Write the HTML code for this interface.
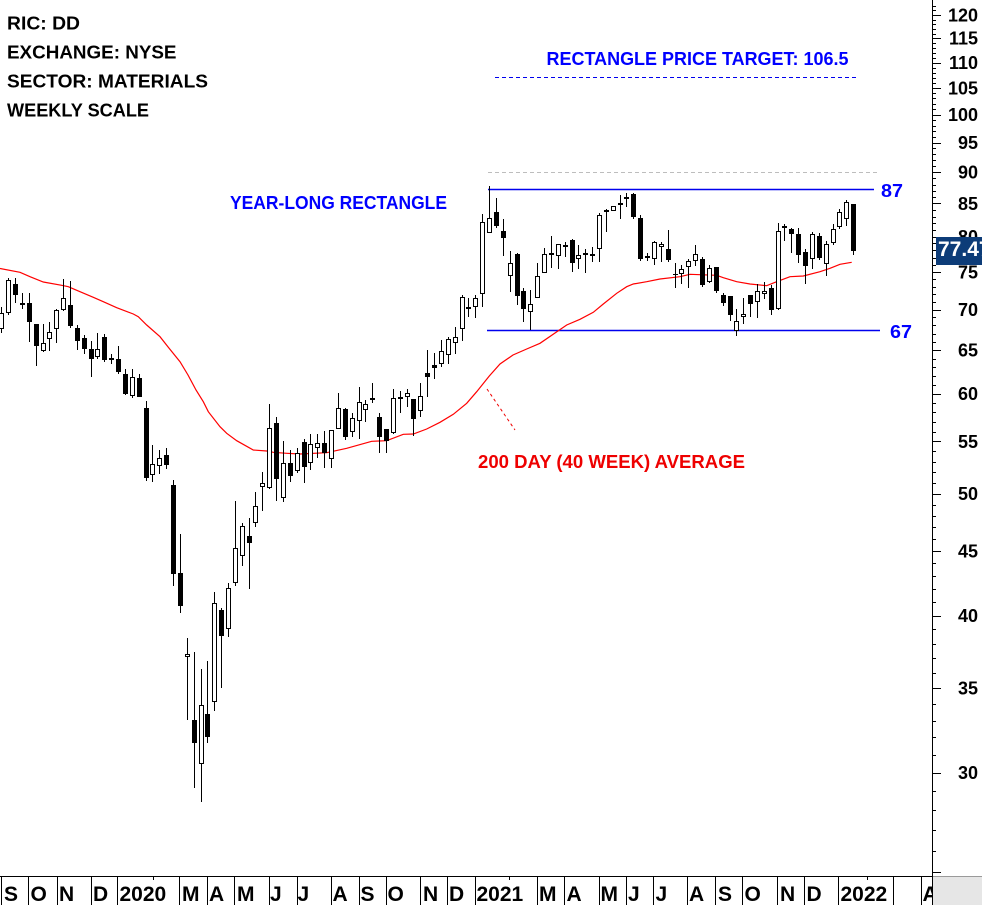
<!DOCTYPE html>
<html><head><meta charset="utf-8"><style>
html,body{margin:0;padding:0;background:#fff;width:982px;height:905px;overflow:hidden}
svg{display:block}
</style></head><body>
<svg width="982" height="905" viewBox="0 0 982 905" xmlns="http://www.w3.org/2000/svg" font-family="'Liberation Sans', Arial, sans-serif" font-weight="bold">
<rect x="0" y="0" width="982" height="905" fill="#fff"/>
<g fill="#000" font-size="18">
<text x="7" y="29.5" textLength="73" lengthAdjust="spacingAndGlyphs">RIC: DD</text>
<text x="7" y="58.5" textLength="169.5" lengthAdjust="spacingAndGlyphs">EXCHANGE: NYSE</text>
<text x="7" y="87.5" textLength="201" lengthAdjust="spacingAndGlyphs">SECTOR: MATERIALS</text>
<text x="7" y="116.5" textLength="142" lengthAdjust="spacingAndGlyphs">WEEKLY SCALE</text>
</g>
<text x="546.5" y="65" font-size="18" fill="#0000ff" textLength="302" lengthAdjust="spacingAndGlyphs">RECTANGLE PRICE TARGET: 106.5</text>
<line x1="495" y1="77.5" x2="858" y2="77.5" stroke="#0000ee" stroke-width="1" stroke-dasharray="4,3"/>
<line x1="488" y1="172.5" x2="880" y2="172.5" stroke="#bdbdbd" stroke-width="1" stroke-dasharray="4,3"/>
<line x1="488" y1="189.5" x2="874" y2="189.5" stroke="#0000ee" stroke-width="1.4"/>
<line x1="487" y1="330.5" x2="880" y2="330.5" stroke="#0000ee" stroke-width="1.4"/>
<text x="230" y="209" font-size="18" fill="#0000ff" textLength="217" lengthAdjust="spacingAndGlyphs">YEAR-LONG RECTANGLE</text>
<text x="881" y="197" font-size="18" fill="#0000ff" textLength="22" lengthAdjust="spacingAndGlyphs">87</text>
<text x="890" y="338" font-size="18" fill="#0000ff" textLength="22" lengthAdjust="spacingAndGlyphs">67</text>
<text x="478" y="468" font-size="18" fill="#ee0000" textLength="267" lengthAdjust="spacingAndGlyphs">200 DAY (40 WEEK) AVERAGE</text>
<line x1="487" y1="389" x2="515" y2="430" stroke="#ee0000" stroke-width="1" stroke-dasharray="3,3"/>
<polyline fill="none" stroke="#ff0000" stroke-width="1.2" points="0,268.5 20,272.3 30,276.7 43.3,282 61.7,285.3 68.3,286.7 80,291.7 93.3,297.3 103.3,301.7 116.7,307.7 133.3,314 138.3,316.7 146.7,325 160,336.7 168.3,347.3 180,361.7 188,375 196,390 203.3,401.7 208.3,411.7 220,426.7 226.7,433.3 236.7,440.7 253.3,450 266.7,451 273.3,452.3 286.7,453.3 300,454 326.7,452.7 346.7,448.3 371.7,441.3 386.7,440.7 403.3,434.3 413.3,434 426.7,429 440,422.3 453.3,414.3 466.7,403.3 476.7,391.7 489.3,376 500,364 513,355 526.7,349 540,343.3 558.3,330.7 566.7,325 580,319.3 593.3,312.3 603.3,304 616.7,293.3 626.7,286.7 633.3,284 646.7,281.7 660,279 680,276.7 690,274.3 716.7,275.3 723.3,277.7 736.7,281.7 750,284 766.7,285.7 776.7,281.7 790,276.7 803.3,276 820,271.7 830,268.3 840,264.3 851.7,262.3"/>
<path fill="none" stroke="#000" stroke-width="1" d="M1.5 307V333M8.5 278V315M15.5 278V303M22.5 293V309M29.5 293V342M36.5 324V366M43.5 324V352M49.5 322V351M56.5 309V343M63.5 279V311M70.5 281V328M77.5 325V350M84.5 335V354M91.5 341V377M97.5 333V359M104.5 334V362M111.5 354V364M118.5 346V374M125.5 369V395M132.5 369V398M139.5 374V397M146.5 401V481M152.5 445V482M159.5 450V474M166.5 448V469M173.5 480V586M180.5 534V613M187.5 638V720M194.5 652V788M201.5 669V802M207.5 661V743M214.5 592V711M221.5 608V688M228.5 583V637M235.5 501V586M242.5 523V566M249.5 518V589M255.5 492V527M262.5 472V511M269.5 404V489M276.5 417V501M283.5 441V502M290.5 450V482M297.5 448V473M304.5 439V483M310.5 434V470M317.5 434V458M324.5 431V468M331.5 430V468M338.5 393V429M345.5 408V440M352.5 413V437M359.5 387V439M365.5 400V422M372.5 383V403M379.5 413V453M386.5 429V453M393.5 389V434M400.5 391V413M407.5 389V407M413.5 399V436M420.5 383V417M427.5 350V397M434.5 353V379M441.5 340V367M448.5 337V364M455.5 327V354M462.5 295V341M468.5 298V317M475.5 295V318M482.5 214V307M489.5 186V233M496.5 198V228M503.5 219V256M510.5 251V292M517.5 253V305M523.5 288V322M530.5 290V330M537.5 263V298M544.5 248V273M551.5 236V268M558.5 244V269M565.5 242V257M572.5 239V272M578.5 245V269M585.5 249V273M592.5 247V262M599.5 213V262M606.5 209V232M613.5 206V211M620.5 195V219M626.5 193V207M633.5 193V219M640.5 215V261M647.5 253V261M654.5 241V265M661.5 242V262M668.5 230V262M675.5 263V288M681.5 265V284M688.5 259V288M695.5 245V266M702.5 257V287M709.5 265V283M716.5 267V293M723.5 293V306M730.5 296V321M736.5 309V336M743.5 298V324M750.5 295V317M757.5 284V318M764.5 282V299M771.5 285V315M778.5 223V310M784.5 224V241M791.5 228V253M798.5 228V263M805.5 249V284M812.5 232V269M819.5 233V260M826.5 241V276M833.5 224V245M839.5 209V229M846.5 200V226M853.5 204V255"/>
<path fill="#000" d="M13 284h5v11h-5zM20 303h5v2h-5zM27 303h5v19h-5zM34 324h5v22h-5zM68 305h5v21h-5zM75 328h5v13h-5zM82 338h5v11h-5zM89 349h5v10h-5zM102 337h5v23h-5zM109 358h5v2h-5zM116 359h5v13h-5zM123 374h5v20h-5zM137 378h5v19h-5zM144 408h5v70h-5zM164 455h5v10h-5zM171 485h5v89h-5zM178 573h5v33h-5zM192 720h5v23h-5zM205 714h5v23h-5zM219 610h5v26h-5zM247 536h5v7h-5zM274 423h5v56h-5zM288 463h5v13h-5zM302 442h5v25h-5zM322 443h5v10h-5zM343 409h5v28h-5zM370 398h5v2h-5zM377 417h5v20h-5zM384 429h5v12h-5zM398 397h5v2h-5zM411 399h5v20h-5zM425 373h5v4h-5zM432 365h5v3h-5zM466 307h5v2h-5zM494 212h5v14h-5zM501 231h5v7h-5zM515 254h5v42h-5zM521 291h5v18h-5zM549 253h5v2h-5zM563 245h5v2h-5zM570 240h5v23h-5zM583 253h5v2h-5zM590 254h5v2h-5zM604 210h5v2h-5zM618 203h5v2h-5zM624 197h5v2h-5zM631 194h5v23h-5zM638 218h5v41h-5zM645 256h5v2h-5zM666 249h5v11h-5zM673 274h5v1h-5zM700 259h5v26h-5zM714 267h5v24h-5zM721 295h5v8h-5zM728 296h5v19h-5zM748 295h5v9h-5zM769 288h5v22h-5zM782 226h5v2h-5zM789 229h5v5h-5zM796 234h5v21h-5zM803 252h5v14h-5zM817 236h5v22h-5zM851 204h5v47h-5z"/>
<path fill="#fff" stroke="#000" stroke-width="1" d="M-0.5 313.5h4v15h-4zM6.5 280.5h4v32h-4zM41.5 343.5h4v7h-4zM47.5 332.5h4v6h-4zM54.5 310.5h4v18h-4zM61.5 298.5h4v11h-4zM95.5 349.5h4v7h-4zM130.5 377.5h4v18h-4zM150.5 464.5h4v10h-4zM157.5 458.5h4v7h-4zM185.5 654.5h4v2h-4zM199.5 705.5h4v58h-4zM212.5 603.5h4v98h-4zM226.5 588.5h4v40h-4zM233.5 548.5h4v34h-4zM240.5 526.5h4v29h-4zM253.5 506.5h4v16h-4zM260.5 483.5h4v3h-4zM267.5 428.5h4v59h-4zM281.5 463.5h4v34h-4zM295.5 453.5h4v17h-4zM308.5 444.5h4v18h-4zM315.5 443.5h4v4h-4zM329.5 430.5h4v28h-4zM336.5 408.5h4v20h-4zM350.5 418.5h4v13h-4zM357.5 402.5h4v18h-4zM363.5 404.5h4v5h-4zM391.5 398.5h4v34h-4zM405.5 393.5h4v3h-4zM418.5 396.5h4v14h-4zM439.5 351.5h4v12h-4zM446.5 339.5h4v15h-4zM453.5 337.5h4v5h-4zM460.5 297.5h4v31h-4zM473.5 298.5h4v8h-4zM480.5 222.5h4v71h-4zM487.5 218.5h4v14h-4zM508.5 263.5h4v12h-4zM528.5 304.5h4v7h-4zM535.5 276.5h4v21h-4zM542.5 254.5h4v18h-4zM556.5 244.5h4v11h-4zM576.5 255.5h4v3h-4zM597.5 215.5h4v33h-4zM611.5 206.5h4v4h-4zM652.5 242.5h4v16h-4zM659.5 244.5h4v2h-4zM679.5 269.5h4v4h-4zM686.5 261.5h4v5h-4zM693.5 254.5h4v6h-4zM707.5 268.5h4v13h-4zM734.5 321.5h4v9h-4zM741.5 314.5h4v2h-4zM755.5 291.5h4v10h-4zM762.5 291.5h4v2h-4zM776.5 231.5h4v77h-4zM810.5 234.5h4v24h-4zM824.5 244.5h4v19h-4zM831.5 229.5h4v13h-4zM837.5 212.5h4v14h-4zM844.5 202.5h4v16h-4z"/>
<rect x="933" y="0" width="49" height="876" fill="#fff"/>
<line x1="932.5" y1="0" x2="932.5" y2="877" stroke="#000" stroke-width="1"/>
<line x1="0" y1="876.5" x2="933" y2="876.5" stroke="#000" stroke-width="1"/>
<path fill="none" stroke="#000" stroke-width="1" d="M932 872.5h9M932 851.5h4M932 830.5h4M932 810.5h4M932 791.5h4M932 773.5h9M932 755.5h4M932 737.5h4M932 721.5h4M932 704.5h4M932 688.5h9M932 673.5h4M932 658.5h4M932 644.5h4M932 629.5h4M932 616.5h9M932 602.5h4M932 589.5h4M932 576.5h4M932 563.5h4M932 551.5h9M932 539.5h4M932 527.5h4M932 516.5h4M932 505.5h4M932 494.5h9M932 483.5h4M932 472.5h4M932 462.5h4M932 451.5h4M932 441.5h9M932 432.5h4M932 422.5h4M932 412.5h4M932 403.5h4M932 394.5h9M932 385.5h4M932 376.5h4M932 367.5h4M932 359.5h4M932 350.5h9M932 342.5h4M932 334.5h4M932 325.5h4M932 317.5h4M932 310.5h9M932 302.5h4M932 294.5h4M932 287.5h4M932 279.5h4M932 272.5h9M932 265.5h4M932 258.5h4M932 250.5h4M932 243.5h4M932 237.5h9M932 230.5h4M932 223.5h4M932 217.5h4M932 210.5h4M932 203.5h9M932 197.5h4M932 191.5h4M932 185.5h4M932 178.5h4M932 172.5h9M932 166.5h4M932 160.5h4M932 154.5h4M932 148.5h4M932 143.5h9M932 137.5h4M932 131.5h4M932 126.5h4M932 120.5h4M932 115.5h9M932 109.5h4M932 104.5h4M932 98.5h4M932 93.5h4M932 88.5h9M932 83.5h4M932 78.5h4M932 73.5h4M932 68.5h4M932 63.5h9M932 58.5h4M932 53.5h4M932 48.5h4M932 43.5h4M932 38.5h9M932 34.5h4M932 29.5h4M932 24.5h4M932 20.5h4M932 15.5h9M932 10.5h4M932 6.5h4"/>
<g fill="#000" font-size="18" text-anchor="end">
<text x="978" y="21.5">120</text><text x="978" y="44.5">115</text><text x="978" y="69">110</text><text x="978" y="94.5">105</text><text x="978" y="121">100</text><text x="978" y="149">95</text><text x="978" y="178.5">90</text><text x="978" y="210">85</text><text x="978" y="243">80</text><text x="978" y="278.5">75</text><text x="978" y="316">70</text><text x="978" y="356.5">65</text><text x="978" y="400">60</text><text x="978" y="448">55</text><text x="978" y="500">50</text><text x="978" y="557.5">45</text><text x="978" y="622">40</text><text x="978" y="694.5">35</text><text x="978" y="779">30</text>
</g>
<rect x="936" y="237" width="46" height="28" fill="#0d3c78"/>
<text x="938" y="256" font-size="21" fill="#fff">77.47</text>
<path fill="none" stroke="#000" stroke-width="1" d="M1.5 877V905M28.5 877V905M57.5 877V905M91.5 877V905M117.5 877V905M179.5 877V905M207.5 877V905M234.5 877V905M269.5 877V905M297.5 877V905M331.5 877V905M359.5 877V905M386.5 877V905M420.5 877V905M447.5 877V905M475.5 877V905M537.5 877V905M564.5 877V905M599.5 877V905M626.5 877V905M653.5 877V905M687.5 877V905M715.5 877V905M742.5 877V905M777.5 877V905M804.5 877V905M838.5 877V905M893.5 877V905M921.5 877V905M153.5 877V880M509.5 877V880M867.5 877V880"/>
<g fill="#000" font-size="21">
<text x="4" y="901">S</text><text x="30.5" y="901">O</text><text x="59" y="901">N</text><text x="93" y="901">D</text><text x="119.5" y="901">2020</text><text x="182" y="901">M</text><text x="209" y="901">A</text><text x="237" y="901">M</text><text x="270" y="901">J</text><text x="297.5" y="901">J</text><text x="332.5" y="901">A</text><text x="360.5" y="901">S</text><text x="387.5" y="901">O</text><text x="423" y="901">N</text><text x="449" y="901">D</text><text x="476.5" y="901">2021</text><text x="539" y="901">M</text><text x="566.5" y="901">A</text><text x="600.5" y="901">M</text><text x="628" y="901">J</text><text x="655.5" y="901">J</text><text x="689" y="901">A</text><text x="718" y="901">S</text><text x="744.5" y="901">O</text><text x="780" y="901">N</text><text x="806.5" y="901">D</text><text x="840.5" y="901">2022</text><text x="922.5" y="901">A</text>
</g>
<rect x="933" y="877" width="49" height="28" fill="#e6e6e6"/>
<line x1="933" y1="876.5" x2="982" y2="876.5" stroke="#9a9a9a" stroke-width="1"/>
<line x1="932.5" y1="876" x2="932.5" y2="905" stroke="#000" stroke-width="1"/>
</svg>
</body></html>
